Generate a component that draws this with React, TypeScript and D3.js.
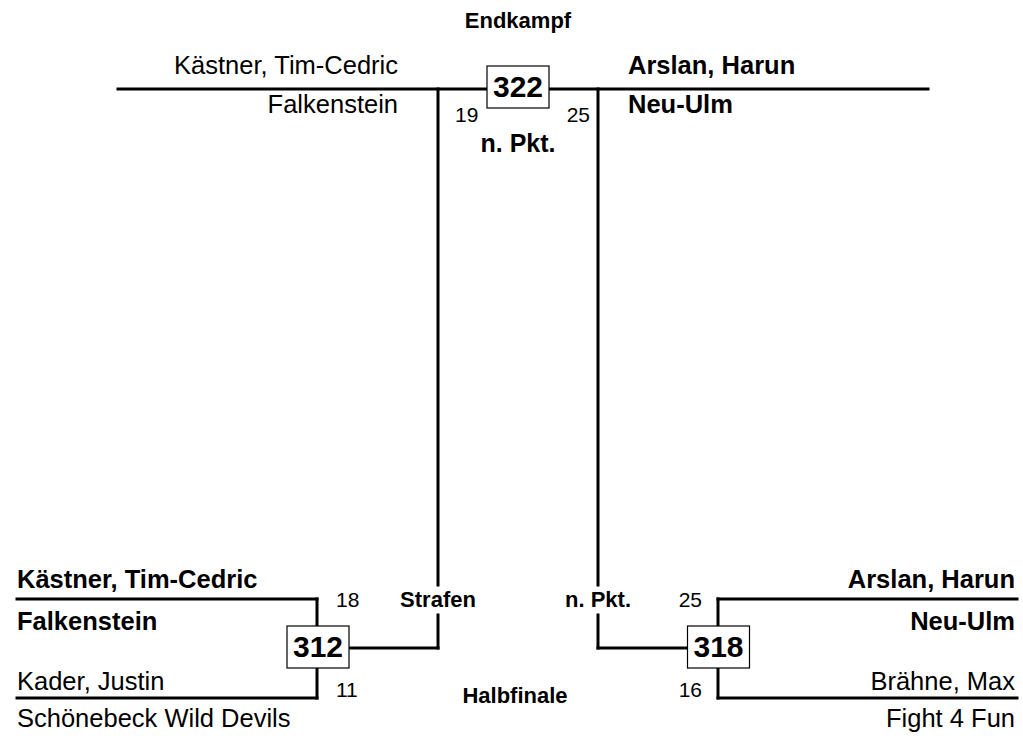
import { useRef, useEffect } from 'react';
import * as d3 from 'd3';

// Round titles
const roundTitles = ['Endkampf', 'Halbfinale'];

// Final (Endkampf)
const finalNumber = '322';
const finalFighters = ['Kästner, Tim-Cedric', 'Arslan, Harun'];
const finalClubs = ['Falkenstein', 'Neu-Ulm'];
const finalScores = [19, 25];
const finalWinner = 1;
const finalResult = 'n. Pkt.';

// Semifinals (Halbfinale), left then right
const semiNumbers = ['312', '318'];
const semiTopFighters = ['Kästner, Tim-Cedric', 'Arslan, Harun'];
const semiTopClubs = ['Falkenstein', 'Neu-Ulm'];
const semiBottomFighters = ['Kader, Justin', 'Brähne, Max'];
const semiBottomClubs = ['Schönebeck Wild Devils', 'Fight 4 Fun'];
const semiTopScores = [18, 25];
const semiBottomScores = [11, 16];
const semiResults = ['Strafen', 'n. Pkt.'];

const W = 1023;
const H = 738;
const FONT = '"Liberation Sans", Arial, Helvetica, sans-serif';
const NAME_SIZE = 25.5;
const SCORE_SIZE = 21;

export default function App() {
  const svgRef = useRef<SVGSVGElement>(null);

  useEffect(() => {
    if (!svgRef.current) return;
    const svg = d3.select(svgRef.current);
    svg.selectAll('*').remove();

    // side: 0 = left (-1), 1 = right (+1)
    const side = d3.scaleOrdinal<number, number>().domain([0, 1]).range([-1, 1]);
    const cx = 518;
    const mid = d3.scaleLinear().domain([-1, 1]).range([cx - 80, cx + 80]); // final verticals
    const semiV = d3.scaleLinear().domain([-1, 1]).range([317, 718]); // semi verticals
    const outer = d3.scaleLinear().domain([-1, 1]).range([17, 1017]);
    const textEdge = d3.scaleLinear().domain([-1, 1]).range([17, 1015]);

    const y = {
      finalLine: 89,
      semiTop: 599,
      semiBottom: 698,
      connector: 648,
      gapTop: 585,
      gapBottom: 615,
    };

    const txt = (x: number, yy: number, s: string, size: number, bold: boolean, anchor: string) =>
      svg.append('text')
        .attr('x', x)
        .attr('y', yy)
        .attr('font-family', FONT)
        .attr('font-size', size)
        .attr('font-weight', bold ? 'bold' : 'normal')
        .attr('text-anchor', anchor)
        .attr('fill', '#000')
        .text(s);

    const line = (x1: number, y1: number, x2: number, y2: number) =>
      svg.append('line')
        .attr('x1', x1).attr('y1', y1).attr('x2', x2).attr('y2', y2)
        .attr('stroke', '#000')
        .attr('stroke-width', 3)
        .attr('stroke-linecap', 'square');

    const box = (centerX: number, centerY: number, label: string) => {
      svg.append('rect')
        .attr('x', centerX - 31)
        .attr('y', centerY - 21)
        .attr('width', 62)
        .attr('height', 42)
        .attr('fill', '#fff')
        .attr('stroke', '#000')
        .attr('stroke-width', 1.2);
      txt(centerX, centerY + 10, label, 30, true, 'middle');
    };

    // Titles
    txt(cx, 28, roundTitles[0], 22, true, 'middle');
    txt(cx - 3, 703, roundTitles[1], 22, true, 'middle');

    // Final line and verticals down to the semifinal boxes
    line(118, y.finalLine, 928, y.finalLine);
    [0, 1].forEach(i => {
      const s = side(i);
      const vx = mid(s);
      line(vx, y.finalLine, vx, y.gapTop);
      line(vx, y.gapBottom, vx, y.connector);
      line(vx, y.connector, semiV(s) + (s < 0 ? 32 : -31), y.connector);
      txt(vx, 607, semiResults[i], 22, true, 'middle');
    });
    box(cx, 87, finalNumber);

    // Final names
    finalFighters.forEach((f, i) => {
      const bold = i === finalWinner;
      const x = i === 0 ? 398 : 628;
      const anchor = i === 0 ? 'end' : 'start';
      txt(x, 74, f, NAME_SIZE, bold, anchor);
      txt(x, 113, finalClubs[i], NAME_SIZE, bold, anchor);
    });
    txt(455, 122, String(finalScores[0]), SCORE_SIZE, false, 'start');
    txt(590, 122, String(finalScores[1]), SCORE_SIZE, false, 'end');
    txt(cx, 152, finalResult, 25, true, 'middle');

    // Semifinals
    [0, 1].forEach(i => {
      const s = side(i);
      const vx = semiV(s);
      line(outer(s), y.semiTop, vx, y.semiTop);
      line(outer(s), y.semiBottom, vx, y.semiBottom);
      line(vx, y.semiTop, vx, y.semiBottom);
      box(vx + (s < 0 ? 1 : 0.5), 647, semiNumbers[i]);

      const tx = textEdge(s);
      const anchor = s < 0 ? 'start' : 'end';
      txt(tx, 588, semiTopFighters[i], NAME_SIZE, true, anchor);
      txt(tx, 630, semiTopClubs[i], NAME_SIZE, true, anchor);
      txt(tx, 690, semiBottomFighters[i], NAME_SIZE, false, anchor);
      txt(tx, 727, semiBottomClubs[i], NAME_SIZE, false, anchor);

      const sx = s < 0 ? vx + 19 : vx - 16;
      const sAnchor = s < 0 ? 'start' : 'end';
      txt(sx, 607, String(semiTopScores[i]), SCORE_SIZE, false, sAnchor);
      txt(sx, 697, String(semiBottomScores[i]), SCORE_SIZE, false, sAnchor);
    });
  }, []);

  return (
    <div style={{ position: 'absolute', left: 0, top: 0, background: '#fff' }}>
      <svg ref={svgRef} width={W} height={H} style={{ display: 'block' }} />
    </div>
  );
}
